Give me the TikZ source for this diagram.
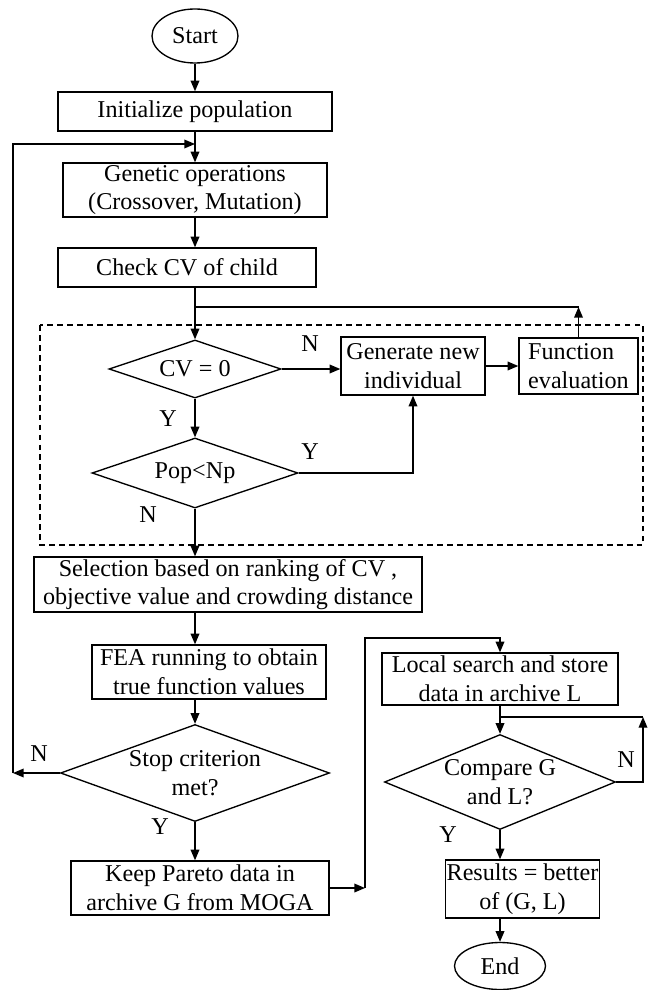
\documentclass[tikz,border=0pt]{standalone}
\usepackage{fontspec}
\setmainfont{Liberation Serif}
\usetikzlibrary{shapes.geometric,arrows.meta,positioning}
\tikzset{
    block/.style={
        draw,
        rectangle,
        line width=1.15pt,
        inner sep=1pt,
        align=center
    },
    decision/.style={
        draw,
        diamond,
        line width=1.15pt,
        inner sep=0pt,
        align=center
    },
    terminal/.style={
        draw,
        ellipse,
        line width=1.15pt,
        inner sep=0pt
    },
    flow/.style={
        line width=1.15pt,
        -{Triangle[length=3.2mm,width=2.6mm]}
    },
    plain/.style={
        line width=1.15pt
    }
}

\begin{document}
\begin{tikzpicture}[x=0.03cm,y=-0.03cm,font=\fontsize{20.6}{24.5}\selectfont]
  \useasboundingbox (0,0) rectangle (649,990);

  % main column
  \node[terminal, minimum width=2.58cm, minimum height=1.62cm] (start) at (195,36) {Start};
  \node[block, minimum width=8.22cm, minimum height=1.17cm] (init) at (195,111.5) {Initialize population};
  \node[block, minimum width=7.92cm, minimum height=1.62cm] (genop) at (195,190) {Genetic operations\\(Crossover, Mutation)};
  \node[block, minimum width=7.74cm, minimum height=1.17cm] (check) at (187,267.5) {Check CV of child};

  % constraint handling
  \draw[line width=1.2pt, dash pattern=on 5pt off 3.5pt] (40,325) rectangle (643,545);
  \node[decision, shape aspect=2.97, minimum width=5.16cm, minimum height=1.74cm] (cv) at (195,369) {CV = 0};
  \node[block, minimum width=4.32cm, minimum height=1.74cm] (gen) at (413,366) {Generate new\\individual};
  \node[block, minimum width=3.57cm, minimum height=1.68cm, align=left] (func) at (578.5,366) {Function\\evaluation};
  \node[decision, shape aspect=2.94, minimum width=6.18cm, minimum height=2.1cm] (pop) at (195,473) {Pop<Np};

  \node[block, minimum width=11.64cm, minimum height=1.65cm] (sel) at (228,584.5) {Selection based on ranking of CV ,\\objective value and crowding distance};
  \node[block, minimum width=7.02cm, minimum height=1.62cm] (fea) at (209,672) {FEA running to obtain\\true function values};
  \node[decision, shape aspect=2.77, minimum width=8.07cm, minimum height=2.91cm] (stop) at (195,773) {Stop criterion\\met?};
  \node[block, minimum width=7.74cm, minimum height=1.62cm] (keep) at (200,888) {Keep Pareto data in\\archive G from MOGA};

  % local search column
  \node[block, minimum width=7.08cm, minimum height=1.56cm] (local) at (500,679) {Local search and store\\data in archive L};
  \node[decision, shape aspect=2.43, minimum width=6.93cm, minimum height=2.85cm] (cmp) at (500,782) {Compare G\\and L?};
  \node[block, minimum width=3.57cm, minimum height=1.74cm] (res) at (522.5,889) {Results = better\\of (G, L)};
  \node[terminal, minimum width=2.73cm, minimum height=1.41cm] (end) at (500,966) {End};

  % labels
  \node (lblNcv) at (310,344) {N};
  \node (lblYcv) at (168,419) {Y};
  \node (lblYpop) at (310,452) {Y};
  \node (lblNpop) at (148,515) {N};
  \node (lblNstop) at (39,754) {N};
  \node (lblYstop) at (160,827) {Y};
  \node (lblNcmp) at (626,760) {N};
  \node (lblYcmp) at (448,835) {Y};

  % helper points
  \coordinate (loopB) at (13,773);
  \coordinate (loopT) at (13,144);
  \coordinate (branch) at (195,307);
  \coordinate (jumpB) at (365,888);
  \coordinate (jumpT) at (365,638);
  \coordinate (cmpR) at (643,717);

  % connectors
  \draw[flow] (start) -- (init);
  \draw[flow] (init) -- (genop);
  \draw[flow] (genop.south) -- (genop.south |- check.north);
  \draw[flow] (genop.south |- check.south) -- (cv.north);
  \draw[flow] (func.north) -- (func.north |- branch);
  \draw[plain] (func.north |- branch) -- (branch);
  \draw[flow] (cv.east) -- (cv.east -| gen.west);
  \draw[flow] (gen.east) -- (gen.east -| func.west);
  \draw[flow] (cv) -- (pop);
  \draw[flow] (pop.east) -| (gen.south);
  \draw[flow] (pop.south) -- (pop.south |- sel.north);
  \draw[flow] (pop.south |- sel.south) -- (pop.south |- fea.north);
  \draw[flow] (pop.south |- fea.south) -- (stop.north);
  \draw[flow] (stop.west) -- (loopB);
  \draw[flow] (loopB) -- (loopT) -- (loopT -| init.south);
  \draw[flow] (stop.south) -- (stop.south |- keep.north);
  \draw[flow] (keep.east) -- (jumpB);
  \draw[flow] (jumpB) -- (jumpT) -| (local.north);
  \draw[flow] (local) -- (cmp);
  \draw[flow] (cmp.east) -| (cmpR);
  \draw[plain] (cmpR) -- (cmpR -| local.south);
  \draw[flow] (cmp.south) -- (cmp.south |- res.north);
  \draw[flow] (cmp.south |- res.south) -- (end);

\end{tikzpicture}
\end{document}
